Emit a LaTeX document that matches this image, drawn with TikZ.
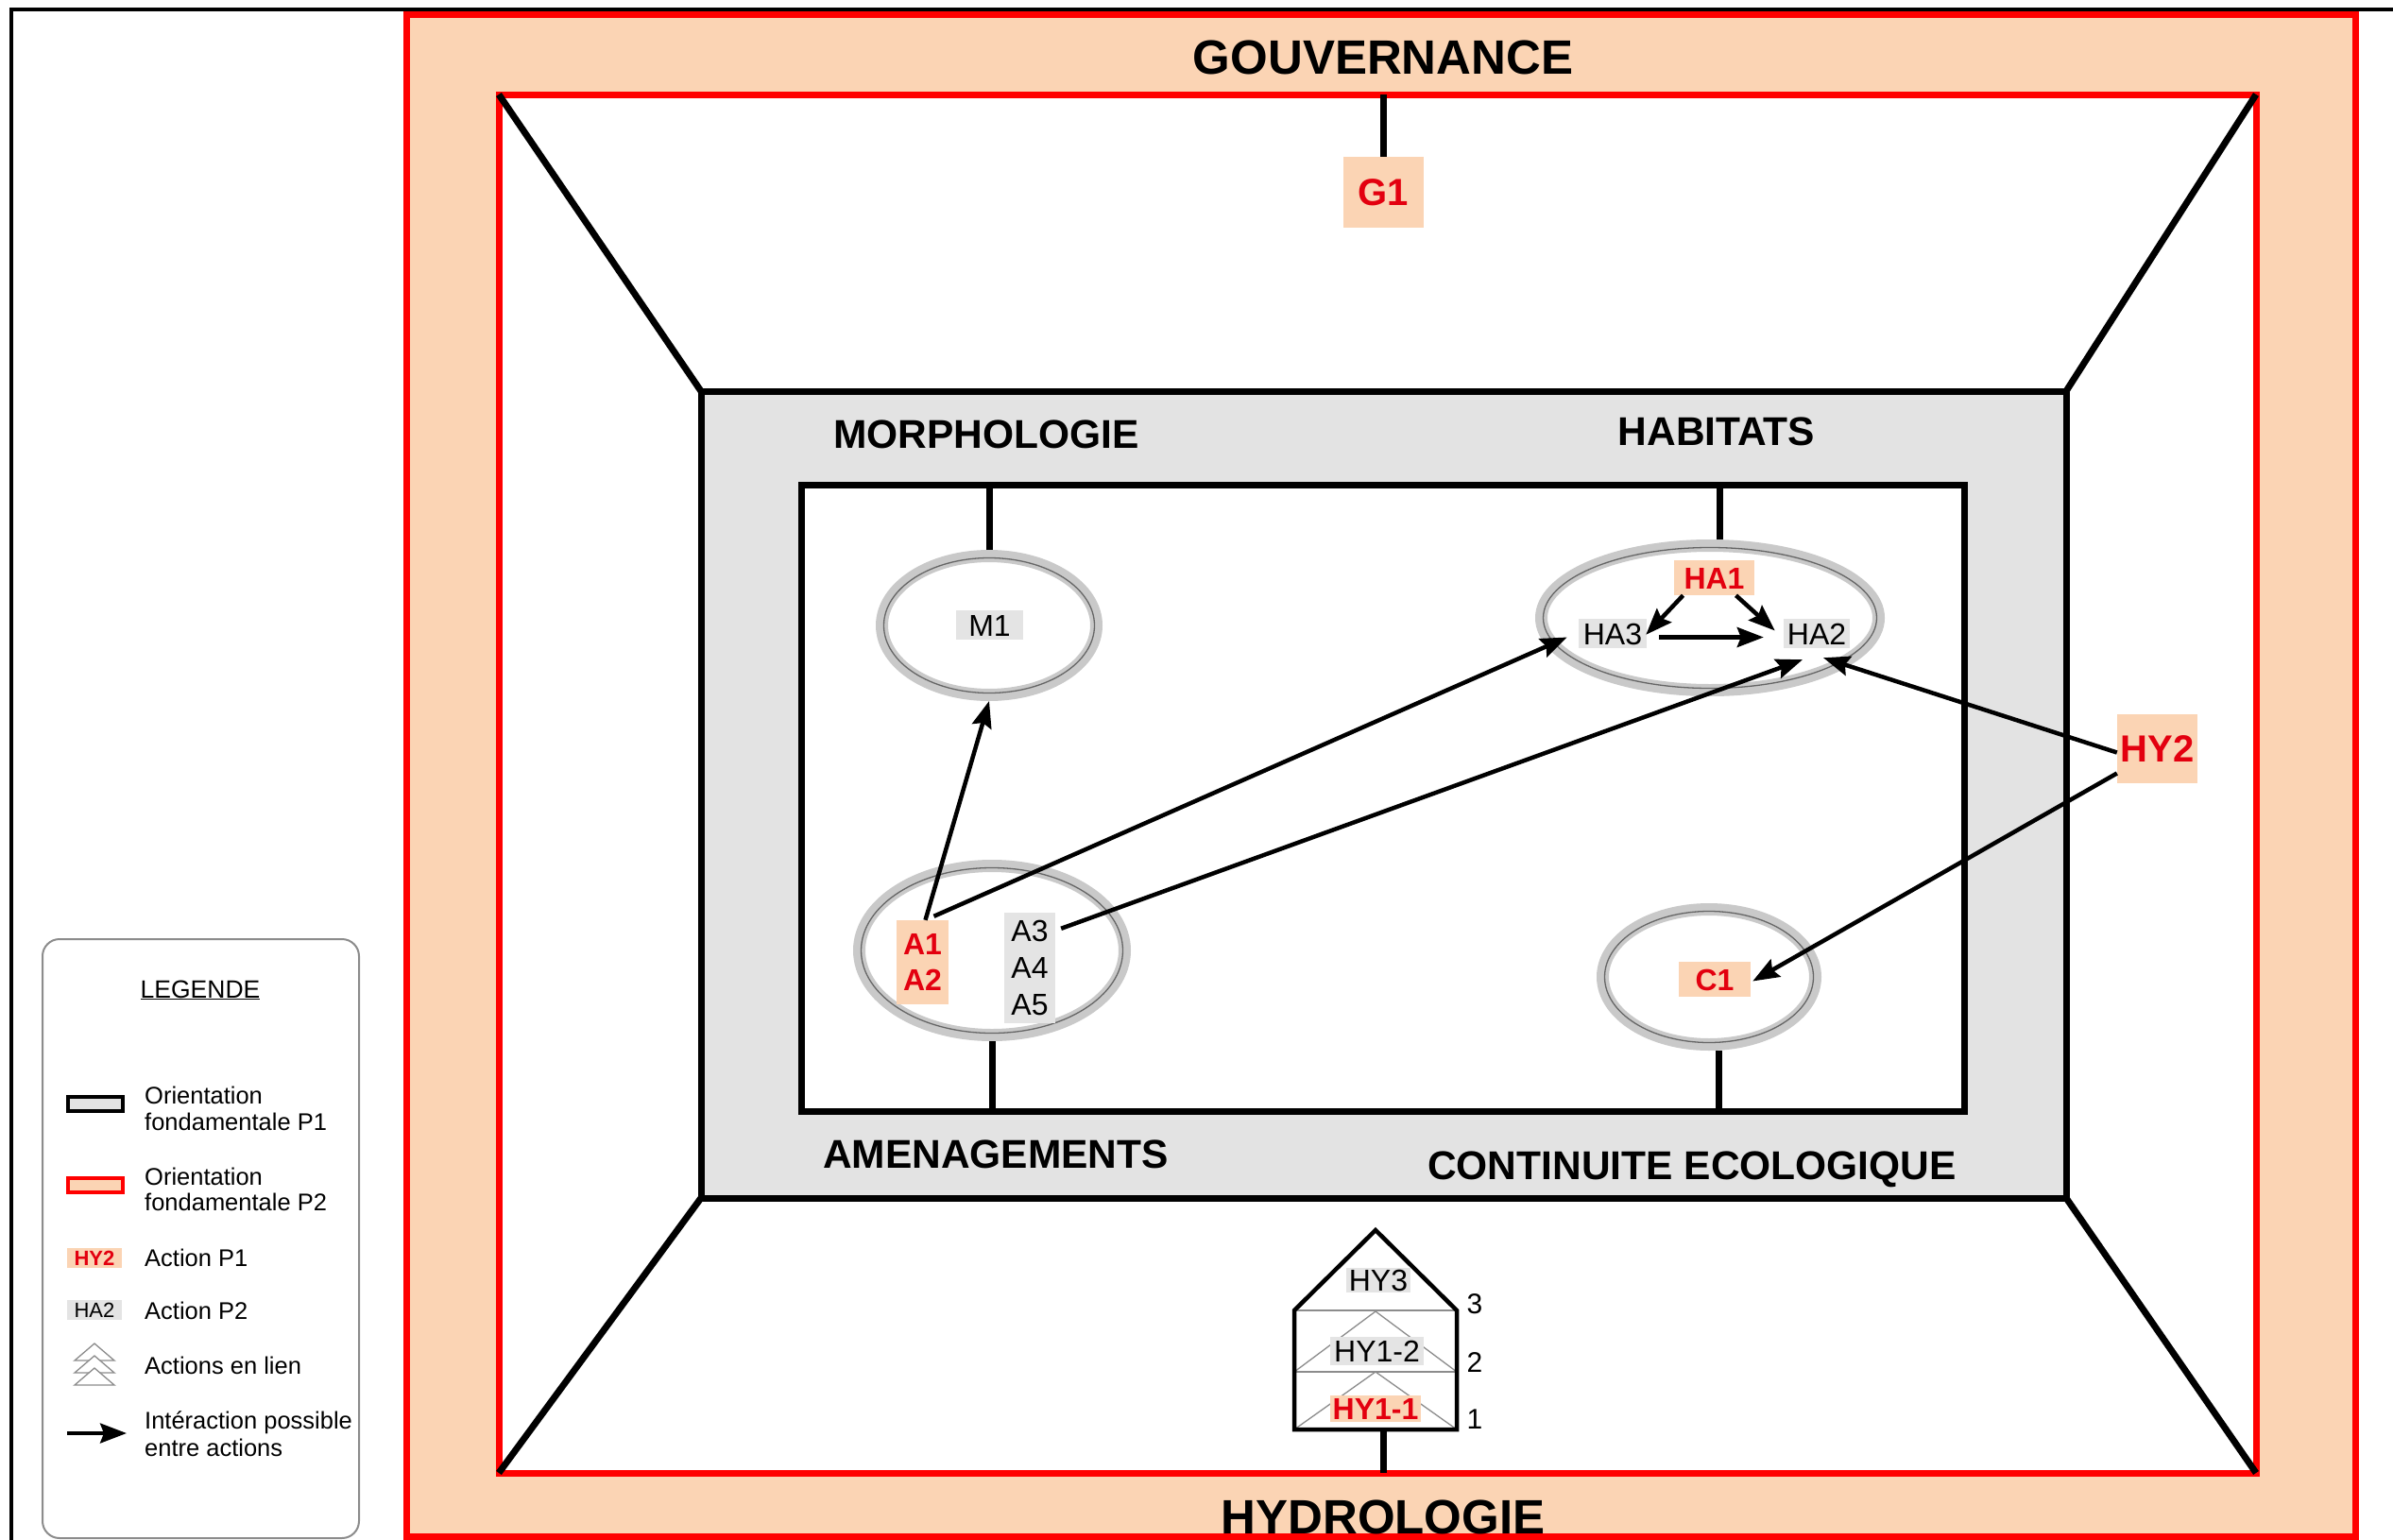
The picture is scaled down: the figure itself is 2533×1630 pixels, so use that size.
\documentclass[tikz,border=0pt]{standalone}
\usepackage{fontspec}
\setmainfont{Liberation Sans}
\usetikzlibrary{shapes.geometric,arrows.meta}
\definecolor{peach}{HTML}{FBD4B4}
\definecolor{bandred}{HTML}{FF0000}
\definecolor{actred}{HTML}{E3000F}
\definecolor{panelgray}{HTML}{E3E3E3}
\definecolor{taggray}{HTML}{E4E4E4}
\definecolor{ringgray}{HTML}{C9C9C9}
\newcommand{\myfs}[1]{\fontsize{#1}{#1}\selectfont}
\tikzset{
  panel/.style={rectangle, inner sep=0pt, outer sep=0pt},
  ring/.style={ellipse, draw=ringgray, line width=13pt, inner sep=0pt},
  ringline/.style={draw=black!60, line width=1.3pt},
  stemline/.style={line width=7pt},
  flow/.style={line width=4.5pt, -{Stealth[length=28pt,width=21pt,inset=4pt]}},
  headtitle/.style={inner sep=0pt, font=\bfseries\myfs{51}, text height=36.5pt, text depth=0pt},
  secttitle/.style={inner sep=0pt, font=\bfseries\myfs{42.5}, text height=30.4pt, text depth=0pt},
  tagone/.style={fill=peach, text=actred, inner sep=0pt, font=\bfseries\myfs{32}, text height=23pt, text depth=0pt},
  tagtwo/.style={fill=taggray, text=black, inner sep=0pt, font=\myfs{32}, text height=23pt, text depth=0pt},
  stackone/.style={fill=peach, text=actred, inner sep=0pt, align=center, font=\bfseries\fontsize{32}{38}\selectfont},
  stacktwo/.style={fill=taggray, text=black, inner sep=0pt, align=center, font=\fontsize{32}{39}\selectfont},
  levelnum/.style={inner sep=0pt, font=\myfs{30}, text height=21.5pt, text depth=0pt},
  legtext/.style={anchor=base west, inner sep=0pt, font=\myfs{25.5}},
  thingray/.style={draw=black!45, line width=1.3pt},
}
\begin{document}
\begin{tikzpicture}[x=1pt,y=-1pt]
\useasboundingbox (0,0) rectangle (2533,1630);

% page edge rules
\coordinate (edgetl) at (12,10);
\coordinate (edgetr) at (2533,10);
\coordinate (edgebl) at (12,1630);
\draw[line width=4pt] (edgetr) -- (edgetl) -- (edgebl);

% P2 band (governance / hydrology)
\node[panel, fill=peach, draw=bandred, line width=7pt, minimum width=2063pt, minimum height=1611pt] (p2out) at (1461.5,820.5) {};
\node[panel, fill=white, draw=bandred, line width=7pt, minimum width=1860pt, minimum height=1459pt] (p2in) at (1458,829.5) {};

% P1 band
\node[panel, fill=panelgray, draw=black, line width=7pt, minimum width=1445pt, minimum height=854pt] (p1box) at (1464.5,841) {};
\node[panel, fill=white, draw=black, line width=7pt, minimum width=1231pt, minimum height=663pt] (p1core) at (1463.5,844.5) {};

% perspective edges
\draw[stemline] (p2in.north west) -- (p1box.north west);
\draw[stemline] (p2in.north east) -- (p1box.north east);
\draw[stemline] (p2in.south west) -- (p1box.south west);
\draw[stemline] (p2in.south east) -- (p1box.south east);

% titles
\node[headtitle] (tgov) at (1464,60) {GOUVERNANCE};
\node[headtitle] (thyd) at (1464,1605) {HYDROLOGIE};
\node[secttitle] (tmor) at (1044,459) {MORPHOLOGIE};
\node[secttitle] (thab) at (1817,456) {HABITATS};
\node[secttitle] (tame) at (1054,1221) {AMENAGEMENTS};
\node[secttitle] (tcon) at (1791,1233) {CONTINUITE ECOLOGIQUE};

% governance action
\node[tagone, font=\bfseries\myfs{40}, text height=28.6pt, minimum width=85pt, minimum height=75pt] (g1) at (1464.5,203.5) {G1};
\draw[stemline] (g1.north |- p2in.north) -- (g1.north);

% action groups
\node[ring, minimum width=227pt, minimum height=147pt] (m1ring) at (1047,662) {};
\draw[ringline] (m1ring.center) ellipse [x radius=111.5, y radius=71.5];
\node[ring, minimum width=281pt, minimum height=179pt] (aring) at (1050,1006) {};
\draw[ringline] (aring.center) ellipse [x radius=138.5, y radius=87.5];
\node[ring, minimum width=357pt, minimum height=153pt] (haring) at (1810,654) {};
\draw[ringline] (haring.center) ellipse [x radius=176.5, y radius=74.5];
\node[ring, minimum width=225pt, minimum height=143pt] (c1ring) at (1809,1034) {};
\draw[ringline] (c1ring.center) ellipse [x radius=110.5, y radius=69.5];

\draw[stemline] (m1ring.north) -- (m1ring.north |- p1core.north);
\draw[stemline] ([xshift=10pt]haring.north) -- ([xshift=10pt]haring.north |- p1core.north);
\draw[stemline] (aring.south) -- (aring.south |- p1core.south);
\draw[stemline] ([xshift=10pt]c1ring.south) -- ([xshift=10pt]c1ring.south |- p1core.south);

% action labels
\node[tagtwo, minimum width=71pt, minimum height=31pt] (m1) at (1047.5,661.5) {M1};
\node[tagone, minimum width=85pt, minimum height=37pt] (ha1) at (1814.5,611.5) {HA1};
\node[tagtwo, minimum width=72pt, minimum height=31pt] (ha3) at (1707,670.5) {HA3};
\node[tagtwo, minimum width=70pt, minimum height=31pt] (ha2) at (1923,670.5) {HA2};
\node[stackone, minimum width=55pt, minimum height=89pt] (a12) at (976.5,1018.5) {A1\\A2};
\node[stacktwo, minimum width=54pt, minimum height=117pt] (a35) at (1090,1024.5) {A3\\A4\\A5};
\node[tagone, minimum width=76pt, minimum height=37pt] (c1) at (1815,1036.5) {C1};
\node[tagone, font=\bfseries\myfs{40}, text height=28.6pt, minimum width=85pt, minimum height=73pt] (hy2) at (2283.5,792.5) {HY2};

% hydrology stack
\coordinate (hapex) at (1456,1302);
\coordinate (hroofl) at (1370,1387);
\coordinate (hroofr) at (1542,1387);
\coordinate (hmidl) at (1370,1452);
\coordinate (hmidr) at (1542,1452);
\coordinate (hbotl) at (1370,1513);
\coordinate (hbotr) at (1542,1513);
\coordinate (hroofc) at (1456,1388);
\coordinate (hmidc) at (1456,1452);
\coordinate (hstem) at (1464,1513);
\draw[thingray] (hroofl) -- (hroofr);
\draw[thingray] (hmidl) -- (hmidr);
\draw[thingray] (hmidl) -- (hroofc) -- (hmidr);
\draw[thingray] (hbotl) -- (hmidc) -- (hbotr);
\node[tagtwo, minimum width=68pt, minimum height=26pt] (hy3) at (1459,1355) {HY3};
\node[tagtwo, minimum width=99pt, minimum height=30pt] (hy12) at (1457.5,1430) {HY1-2};
\node[tagone, minimum width=96pt, minimum height=28pt] (hy11) at (1456,1491) {HY1-1};
\draw[line width=4.5pt, line join=miter] (hbotl) -- (hroofl) -- (hapex) -- (hroofr) -- (hbotr) -- cycle;
\draw[stemline] (hstem) -- (hstem |- p2in.south);
\node[levelnum] (n3) at (1561,1380) {3};
\node[levelnum] (n2) at (1561,1442) {2};
\node[levelnum] (n1) at (1561,1502) {1};

% interactions
\draw[flow] ([xshift=3pt]a12.north) -- (m1ring.south);
\draw[flow] ([xshift=12pt,yshift=4pt]a12.north) -- ([xshift=-12pt,yshift=-4pt]ha3.west);
\draw[flow] ([xshift=6pt,yshift=-17pt]a35.north east) -- ([xshift=-15pt,yshift=-12pt]ha2.south);
\draw[flow] ([yshift=-4pt]hy2.west) -- ([xshift=7pt,yshift=-10pt]ha2.south);
\draw[flow] ([yshift=-26pt]hy2.west) -- ([xshift=2pt,yshift=-2pt]c1.east);
\draw[flow] ([xshift=-33pt]ha1.south) -- ([xshift=-1pt,yshift=-17pt]ha3.north east);
\draw[flow] ([xshift=23pt]ha1.south) -- ([xshift=-9pt,yshift=3pt]ha2.west);
\draw[flow] ([xshift=13pt,yshift=-4pt]ha3.east) -- ([xshift=-21pt,yshift=-4pt]ha2.west);

% legend
\node[panel, draw=black!45, line width=2pt, rounded corners=18pt, minimum width=335pt, minimum height=634pt] (legend) at (212.5,1311) {};
\node[anchor=base, inner sep=0pt, font=\myfs{26.5}] (legtitle) at (212,1056) {\underline{LEGENDE}};
\node[panel, fill=panelgray, draw=black, line width=4pt, minimum width=58pt, minimum height=15pt] (keyone) at (100.5,1168) {};
\node[legtext] (keyonea) at (153,1168) {Orientation};
\node[legtext] (keyoneb) at (153,1196) {fondamentale P1};
\node[panel, fill=peach, draw=bandred, line width=4pt, minimum width=58pt, minimum height=15pt] (keytwo) at (100.5,1254) {};
\node[legtext] (keytwoa) at (153,1254) {Orientation};
\node[legtext] (keytwob) at (153,1281) {fondamentale P2};
\node[tagone, font=\bfseries\myfs{22}, text height=16pt, minimum width=58pt, minimum height=21pt] (keyhy) at (100,1331) {HY2};
\node[legtext] (keyhyt) at (153,1340) {Action P1};
\node[tagtwo, font=\myfs{22}, text height=16pt, minimum width=58pt, minimum height=21pt] (keyha) at (100,1386) {HA2};
\node[legtext] (keyhat) at (153,1396) {Action P2};
\coordinate (chtop) at (100,1422);
\coordinate (chmid) at (100,1435);
\coordinate (chlow) at (100,1448);
\filldraw[thingray, fill=white] (chtop) -- ++(-21,18) -- ++(42,0) -- cycle;
\filldraw[thingray, fill=white] (chmid) -- ++(-21,18) -- ++(42,0) -- cycle;
\filldraw[thingray, fill=white] (chlow) -- ++(-21,18) -- ++(42,0) -- cycle;
\node[legtext] (keylink) at (153,1454) {Actions en lien};
\coordinate (keyarrs) at (71,1517);
\coordinate (keyarre) at (134,1517);
\draw[flow, line width=3.5pt] (keyarrs) -- (keyarre);
\node[legtext] (keyarra) at (153,1512) {Intéraction possible};
\node[legtext] (keyarrb) at (153,1541) {entre actions};
\end{tikzpicture}
\end{document}
